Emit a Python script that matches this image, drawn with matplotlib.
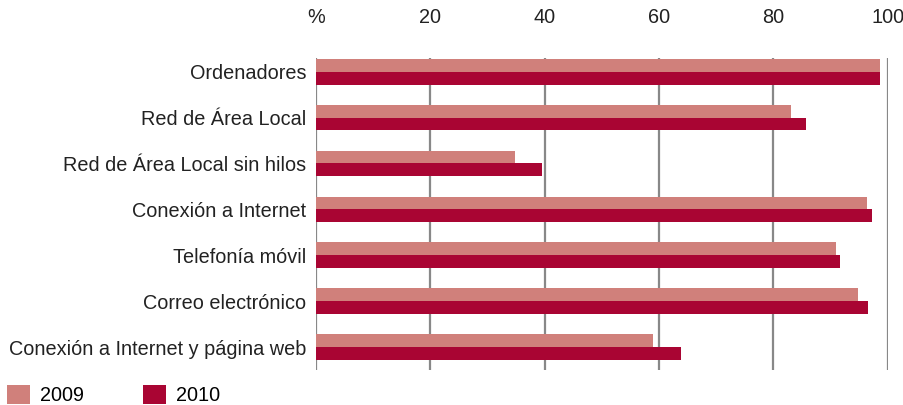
import numpy as np
import matplotlib.pyplot as plt

# data (%)
categories = ['Ordenadores', 'Red de Área Local', 'Red de Área Local sin hilos',
              'Conexión a Internet', 'Telefonía móvil', 'Correo electrónico',
              'Conexión a Internet y página web']
values_2009 = [98.6, 83.0, 34.8, 96.3, 90.9, 94.8, 59.0]
values_2010 = [98.6, 85.7, 39.5, 97.2, 91.6, 96.6, 63.9]
years = ['2009', '2010']
x_ticks = [0, 20, 40, 60, 80, 100]
x_tick_labels = ['%', '20', '40', '60', '80', '100']

color_2009 = '#D0807B'
color_2010 = '#A90533'

plt.rcParams['font.family'] = ['Liberation Sans', 'DejaVu Sans']
plt.rcParams['font.size'] = 14.3

fig = plt.figure(figsize=(9.04, 4.05), dpi=100)
ax = fig.add_axes([0.3496, 0.0864, 0.6324, 0.7706])

y = np.arange(len(categories))
h = 0.28
b1 = ax.barh(y - h / 2, values_2009, height=h, color=color_2009, label=years[0], zorder=3)
b2 = ax.barh(y + h / 2, values_2010, height=h, color=color_2010, label=years[1], zorder=3)

ax.set_xlim(0, 100)
ax.set_ylim(6.5, -0.3)
ax.set_yticks(y)
ax.set_yticklabels(categories, color='#222222')
ax.set_xticks(x_ticks)
ax.set_xticklabels(x_tick_labels, color='#222222')
ax.xaxis.tick_top()
ax.tick_params(axis='both', length=0)
ax.tick_params(axis='x', pad=22)
ax.tick_params(axis='y', pad=7)
ax.grid(axis='x', color='#888888', linewidth=1.6, zorder=0)
for s in ax.spines.values():
    s.set_visible(False)

fig.legend(handles=[b1, b2], labels=years, loc='lower left',
           bbox_to_anchor=(-0.012, -0.045), ncol=2, frameon=False,
           handlelength=1.15, handleheight=1.15, handletextpad=0.5,
           columnspacing=3.0, fontsize=14.3)

fig.savefig('out.png', dpi=100)
